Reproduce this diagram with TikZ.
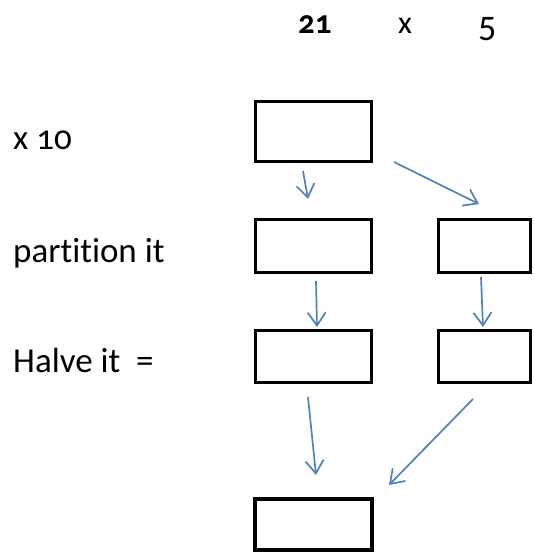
\documentclass[tikz,border=0pt]{standalone}
\usepackage{fontspec}
\setmainfont{Carlito}[Ligatures=NoCommon]
\newfontfamily\oldnum{Carlito}[Numbers=OldStyle,Ligatures=NoCommon]
\usetikzlibrary{arrows.meta}
\definecolor{arrowblue}{HTML}{4F81BD}
\tikzset{
  box/.style={draw=black, line width=2.7pt, inner sep=0pt, fill=none},
  lbl/.style={anchor=base west, inner sep=0pt, font=\fontsize{35}{40}\selectfont},
  conn/.style={draw=arrowblue, line width=1.7pt, -{Straight Barb[length=13pt,width=18pt]}}
}
\begin{document}
\begin{tikzpicture}[x=1pt,y=-1pt]
\useasboundingbox (0,0) rectangle (533,554);
% top labels
\node[lbl, font=\fontsize{33}{38}\selectfont\bfseries\oldnum] (t21) at (298,33) {21};
\node[lbl, font=\fontsize{32}{36}\selectfont] (tx) at (398,33) {x};
\node[lbl, font=\fontsize{36}{40}\selectfont] (t5) at (478,40) {5};
% side labels
\node[lbl, font=\fontsize{35}{40}\selectfont\oldnum] (lx) at (13,149) {x 10};
\node[lbl] (lp) at (13,262) {partition it};
\node[lbl] (lh) at (13,372) {Halve it\ \ =};
% boxes
\node[box, minimum width=116pt, minimum height=60pt] (b1) at (313.5,131.5) {};
\node[box, minimum width=116pt, minimum height=53pt] (b2l) at (313.5,246) {};
\node[box, minimum width=92pt, minimum height=53pt] (b2r) at (484.5,246) {};
\node[box, minimum width=116pt, minimum height=52pt] (b3l) at (313.5,356.5) {};
\node[box, minimum width=92pt, minimum height=52pt] (b3r) at (484.5,356.5) {};
\node[box, line width=4pt, minimum width=117pt, minimum height=51pt] (b4) at (313.5,524.5) {};
% arrow ends
\coordinate (a1s) at (303,171); \coordinate (a1e) at (308,199);
\coordinate (a2s) at (394,162); \coordinate (a2e) at (479,204);
\coordinate (a3s) at (316,281); \coordinate (a3e) at (317,327);
\coordinate (a4s) at (481,277); \coordinate (a4e) at (483,327);
\coordinate (a5s) at (308,397); \coordinate (a5e) at (316,475);
\coordinate (a6s) at (473,399); \coordinate (a6e) at (389,485);
\draw[conn] (a1s) -- (a1e);
\draw[conn] (a2s) -- (a2e);
\draw[conn] (a3s) -- (a3e);
\draw[conn] (a4s) -- (a4e);
\draw[conn] (a5s) -- (a5e);
\draw[conn] (a6s) -- (a6e);
\end{tikzpicture}
\end{document}
